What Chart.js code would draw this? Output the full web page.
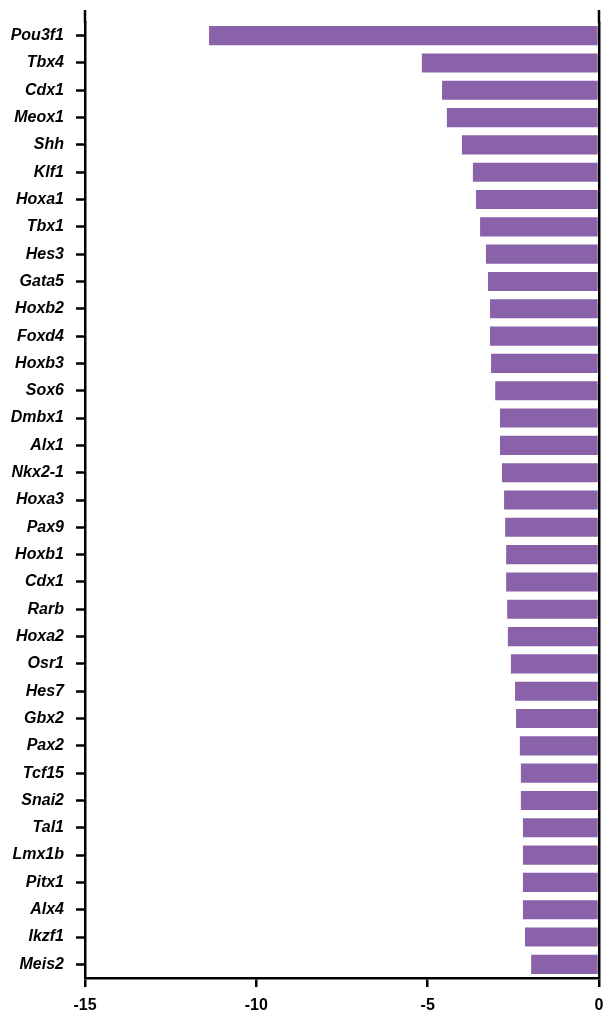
<!DOCTYPE html>
<html>
<head>
<meta charset="utf-8">
<script src="https://cdn.jsdelivr.net/npm/chart.js@4/dist/chart.umd.min.js"></script>
<style>
  html, body { margin: 0; padding: 0; background: #fff; }
  #wrap { width: 603px; height: 1014px; }
</style>
</head>
<body>
<div id="wrap"><canvas id="geneChart" width="603" height="1014"></canvas></div>
<script>
// Genes, top to bottom
const genes = [
    'Pou3f1', 'Tbx4', 'Cdx1', 'Meox1', 'Shh', 'Klf1', 'Hoxa1', 'Tbx1', 'Hes3',
    'Gata5', 'Hoxb2', 'Foxd4', 'Hoxb3', 'Sox6', 'Dmbx1', 'Alx1', 'Nkx2-1',
    'Hoxa3', 'Pax9', 'Hoxb1', 'Cdx1', 'Rarb', 'Hoxa2', 'Osr1', 'Hes7', 'Gbx2',
    'Pax2', 'Tcf15', 'Snai2', 'Tal1', 'Lmx1b', 'Pitx1', 'Alx4', 'Ikzf1', 'Meis2'
];

// Fold change values
const foldChange = [
    -11.38, -5.17, -4.58, -4.44, -4.00, -3.68, -3.59, -3.47, -3.30,
    -3.24, -3.18, -3.18, -3.15, -3.03, -2.89, -2.89, -2.83,
    -2.77, -2.74, -2.71, -2.71, -2.68, -2.66, -2.57, -2.45, -2.42,
    -2.31, -2.28, -2.28, -2.22, -2.22, -2.22, -2.22, -2.16, -1.98
];

// x axis range and tick step
const xMin = -15;
const xMax = 0;
const xStep = 5;

const barColor = '#8a62aa';

// Extend the left axis and the zero line a little above the first bar
const axisExtension = {
    id: 'axisExtension',
    afterDraw(chart) {
        const { ctx, chartArea, scales } = chart;
        ctx.save();
        ctx.strokeStyle = '#000';
        ctx.lineWidth = 2.5;
        [xMin, xMax].forEach(v => {
            const x = scales.x.getPixelForValue(v);
            ctx.beginPath();
            ctx.moveTo(x, chartArea.top - 12);
            ctx.lineTo(x, chartArea.top + 1);
            ctx.stroke();
        });
        ctx.restore();
    }
};

new Chart(document.getElementById('geneChart').getContext('2d'), {
    type: 'bar',
    data: {
        labels: genes,
        datasets: [{
            data: foldChange,
            backgroundColor: barColor,
            borderWidth: 0,
            barPercentage: 0.7,
            categoryPercentage: 1.0
        }]
    },
    options: {
        indexAxis: 'y',
        responsive: false,
        animation: false,
        devicePixelRatio: 1,
        layout: { padding: { top: 22, right: 4, bottom: 0, left: 0 } },
        plugins: {
            legend: { display: false },
            tooltip: { enabled: false }
        },
        scales: {
            x: {
                type: 'linear',
                position: 'bottom',
                min: xMin,
                max: xMax,
                afterFit: scale => {
                    scale.height = 36;
                    scale.paddingLeft = 0;
                    scale.paddingRight = 0;
                },
                ticks: {
                    stepSize: xStep,
                    color: '#000',
                    padding: 9,
                    font: { family: 'Liberation Sans, Arial, sans-serif', size: 16, weight: 'bold' },
                    maxRotation: 0
                },
                grid: {
                    drawOnChartArea: true,
                    color: c => (c.tick && c.tick.value === 0 ? '#000' : 'rgba(0,0,0,0)'),
                    lineWidth: 2.5,
                    tickColor: '#000',
                    tickWidth: 2.5,
                    tickLength: 9
                },
                border: { display: true, color: '#000', width: 2.5 }
            },
            y: {
                type: 'category',
                offset: true,
                afterFit: scale => { scale.width = 85; },
                ticks: {
                    color: '#000',
                    padding: 12,
                    autoSkip: false,
                    font: { family: 'Liberation Sans, Arial, sans-serif', size: 16, weight: 'bold', style: 'italic' }
                },
                grid: {
                    offset: false,
                    drawOnChartArea: false,
                    tickColor: '#000',
                    tickWidth: 2.5,
                    tickLength: 9
                },
                border: { display: true, color: '#000', width: 2.5 }
            }
        }
    },
    plugins: [axisExtension]
});
</script>
</body>
</html>
